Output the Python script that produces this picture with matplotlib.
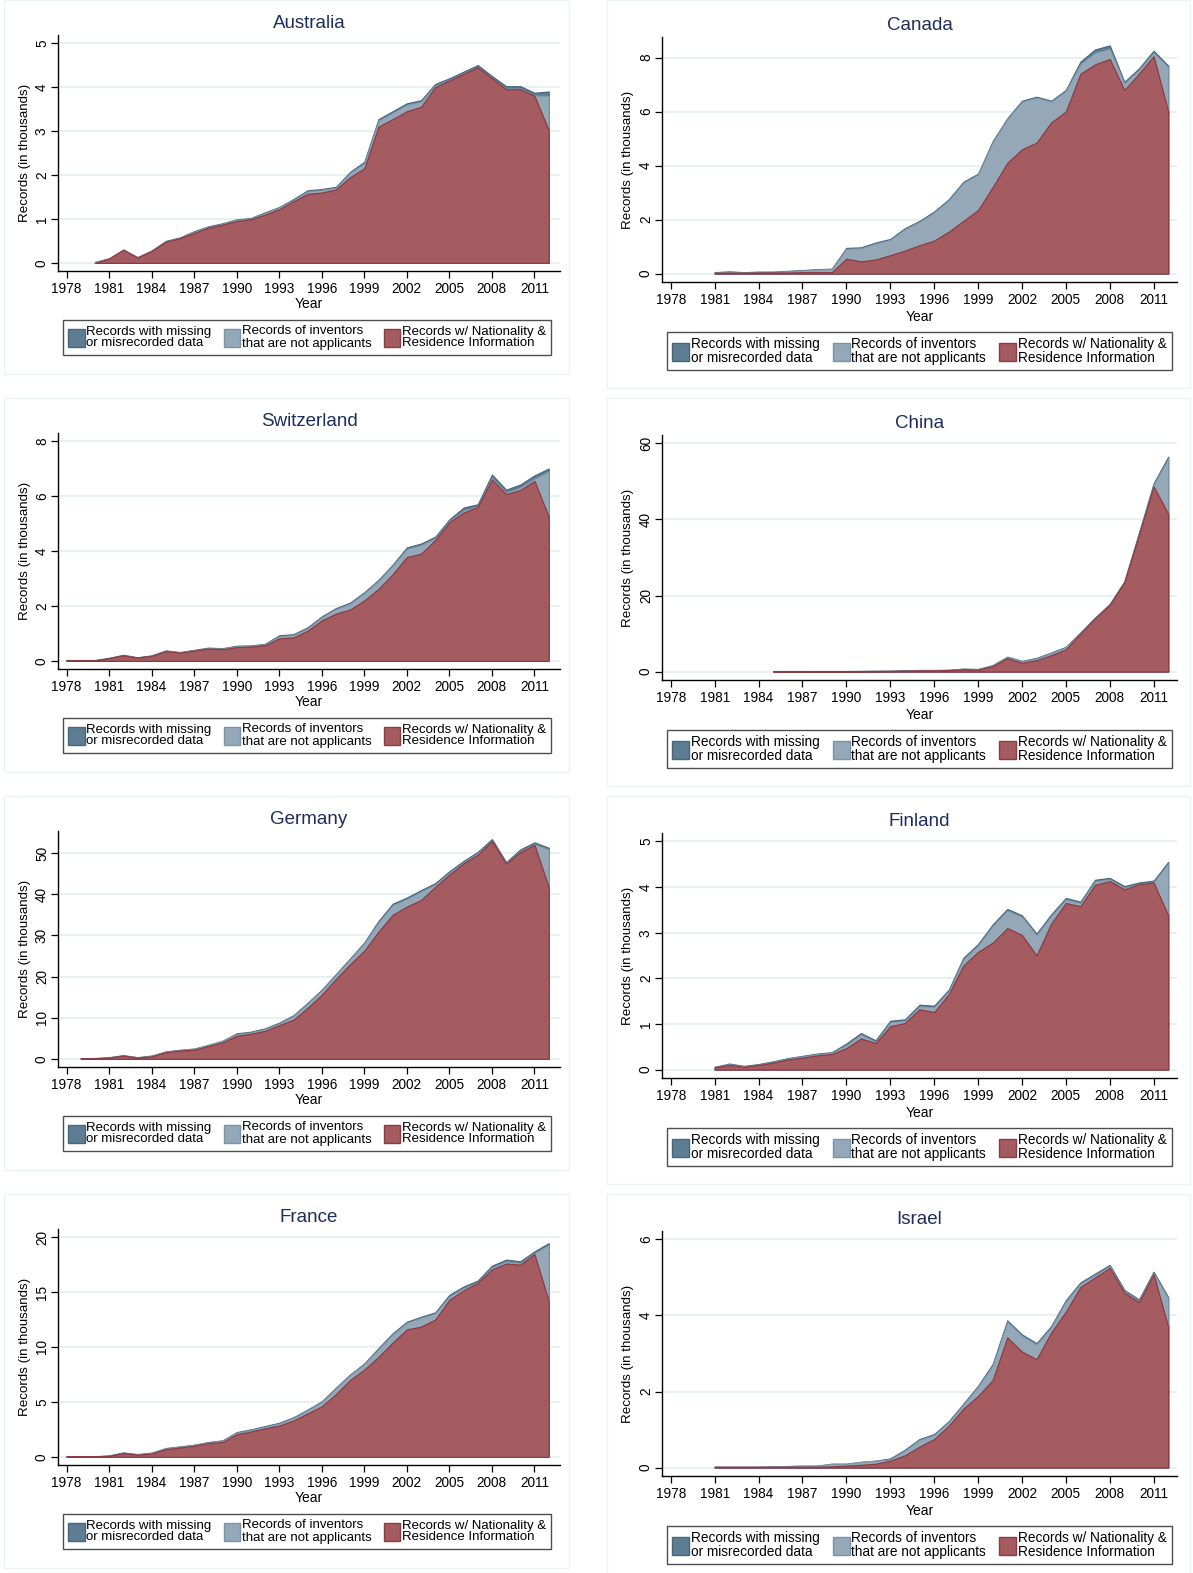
import numpy as np
import matplotlib.pyplot as plt
from matplotlib.patches import Patch, Rectangle

plt.rcParams['font.family'] = ['Liberation Sans', 'DejaVu Sans']

W, H = 1193, 1573

# ---- data (thousands of records) ----
aus_years = list(range(1980, 2013))
aus_nat = [0.0, 0.1, 0.3, 0.12, 0.27, 0.48, 0.56, 0.68, 0.8, 0.87, 0.95, 0.99, 1.1, 1.22, 1.4, 1.57, 1.6,
           1.67, 1.95, 2.15, 3.1, 3.27, 3.45, 3.55, 4.0, 4.15, 4.3, 4.45, 4.2, 3.95, 3.95, 3.8, 3.02]
aus_non = [0.02, 0, 0, 0.01, 0.01, 0.01, 0.01, 0.03, 0.02, 0.02, 0.03, 0.02, 0.04, 0.04, 0.03, 0.06, 0.06,
           0.04, 0.1, 0.12, 0.14, 0.15, 0.15, 0.12, 0.04, 0.02, 0.02, 0.01, 0.01, 0.02, 0.02, 0.01, 0.78]
aus_mis = [0, 0, 0, 0, 0, 0.01, 0.01, 0.01, 0.01, 0.01, 0.01, 0.01, 0.01, 0.01, 0.02, 0.02, 0.02,
           0.02, 0.02, 0.03, 0.03, 0.03, 0.03, 0.03, 0.03, 0.03, 0.03, 0.04, 0.04, 0.05, 0.05, 0.06, 0.1]

can_years = list(range(1981, 2013))
can_nat = [0.03, 0.03, 0.03, 0.04, 0.04, 0.04, 0.05, 0.05, 0.05, 0.55, 0.45, 0.52, 0.68, 0.85, 1.05, 1.22,
           1.55, 1.95, 2.35, 3.2, 4.1, 4.6, 4.85, 5.6, 6.0, 7.4, 7.75, 7.95, 6.8, 7.4, 8.05, 6.0]
can_non = [0.01, 0.04, 0.01, 0.02, 0.02, 0.05, 0.07, 0.1, 0.12, 0.37, 0.49, 0.6, 0.57, 0.8, 0.87, 1.05,
           1.17, 1.42, 1.32, 1.67, 1.62, 1.77, 1.67, 0.77, 0.77, 0.37, 0.43, 0.38, 0.25, 0.15, 0.14, 1.65]
can_mis = [0.01, 0.01, 0.01, 0.01, 0.01, 0.01, 0.01, 0.01, 0.01, 0.03, 0.03, 0.03, 0.03, 0.03, 0.03, 0.03,
           0.03, 0.03, 0.03, 0.03, 0.03, 0.03, 0.03, 0.03, 0.03, 0.08, 0.12, 0.12, 0.05, 0.05, 0.06, 0.05]

che_years = list(range(1978, 2013))
che_nat = [0.02, 0.02, 0.02, 0.1, 0.2, 0.12, 0.18, 0.35, 0.3, 0.37, 0.45, 0.42, 0.5, 0.52, 0.57, 0.82,
           0.85, 1.1, 1.47, 1.72, 1.87, 2.2, 2.62, 3.15, 3.78, 3.9, 4.4, 5.05, 5.4, 5.6, 6.6, 6.07, 6.22,
           6.55, 5.25]
che_non = [0, 0, 0, 0, 0.01, 0, 0.01, 0.02, 0.01, 0.02, 0.02, 0.03, 0.04, 0.03, 0.04, 0.08, 0.09, 0.09,
           0.12, 0.17, 0.22, 0.27, 0.3, 0.32, 0.3, 0.32, 0.07, 0.05, 0.08, 0.03, 0.08, 0.06, 0.1, 0.08, 1.65]
che_mis = [0.01, 0.01, 0.01, 0.01, 0.01, 0.01, 0.01, 0.01, 0.01, 0.01, 0.01, 0.01, 0.01, 0.01, 0.01,
           0.03, 0.03, 0.03, 0.03, 0.03, 0.03, 0.03, 0.03, 0.03, 0.05, 0.05, 0.05, 0.05, 0.1, 0.07, 0.1,
           0.1, 0.1, 0.12, 0.1]

chn_years = list(range(1985, 2013))
chn_nat = [0.1, 0.1, 0.1, 0.1, 0.1, 0.1, 0.12, 0.14, 0.15, 0.25, 0.3, 0.3, 0.35, 0.6, 0.5, 1.4, 3.5, 2.3,
           3.0, 4.3, 5.8, 10.0, 14.0, 17.5, 23.5, 36.0, 48.7, 41.5]
chn_non = [0.02, 0.02, 0.02, 0.03, 0.03, 0.03, 0.04, 0.05, 0.06, 0.08, 0.1, 0.1, 0.1, 0.15, 0.15, 0.2,
           0.3, 0.4, 0.5, 0.6, 0.6, 0.2, 0.1, 0.2, 0.1, 0.3, 0.5, 14.6]
chn_mis = [0.01, 0.01, 0.01, 0.01, 0.01, 0.01, 0.01, 0.01, 0.01, 0.01, 0.01, 0.01, 0.01, 0.01, 0.01,
           0.1, 0.1, 0.1, 0.1, 0.1, 0.1, 0.1, 0.1, 0.1, 0.1, 0.2, 0.3, 0.4]

deu_years = list(range(1979, 2013))
deu_nat = [0.1, 0.15, 0.3, 0.8, 0.3, 0.6, 1.6, 2.0, 2.2, 3.1, 4.0, 5.6, 6.1, 6.8, 8.2, 9.5, 12.4, 15.6,
           19.4, 23.0, 26.3, 30.9, 35.0, 37.0, 38.6, 41.8, 44.8, 47.5, 49.6, 52.9, 47.4, 50.3, 52.0, 41.8]
deu_non = [0.02, 0.02, 0.07, 0.07, 0.07, 0.17, 0.17, 0.17, 0.27, 0.27, 0.37, 0.45, 0.35, 0.45, 0.45,
           0.95, 1.05, 1.05, 1.05, 1.25, 1.85, 2.3, 2.4, 1.9, 2.1, 0.6, 0.5, 0.3, 0.4, 0.1, 0.1, 0.3, 0.2, 9.1]
deu_mis = [0.03, 0.03, 0.03, 0.03, 0.03, 0.03, 0.03, 0.03, 0.03, 0.03, 0.03, 0.15, 0.15, 0.15, 0.15,
           0.15, 0.15, 0.15, 0.15, 0.15, 0.15, 0.3, 0.3, 0.3, 0.3, 0.3, 0.3, 0.3, 0.3, 0.4, 0.3, 0.3, 0.4, 0.4]

fin_years = list(range(1981, 2013))
fin_nat = [0.05, 0.1, 0.06, 0.1, 0.15, 0.22, 0.26, 0.31, 0.34, 0.47, 0.68, 0.58, 0.95, 1.02, 1.32, 1.26,
           1.65, 2.28, 2.58, 2.78, 3.1, 2.95, 2.5, 3.2, 3.65, 3.58, 4.05, 4.13, 3.95, 4.06, 4.1, 3.38]
fin_non = [0, 0.02, 0.01, 0.01, 0.02, 0.02, 0.03, 0.03, 0.03, 0.07, 0.09, 0.03, 0.09, 0.05, 0.07, 0.11,
           0.07, 0.14, 0.14, 0.37, 0.39, 0.4, 0.45, 0.17, 0.08, 0.07, 0.08, 0.04, 0.04, 0.01, 0.01, 1.14]
fin_mis = [0.01, 0.01, 0.01, 0.01, 0.01, 0.01, 0.01, 0.01, 0.01, 0.03, 0.03, 0.03, 0.03, 0.03, 0.03,
           0.03, 0.03, 0.03, 0.03, 0.03, 0.03, 0.03, 0.03, 0.03, 0.03, 0.03, 0.03, 0.03, 0.03, 0.03, 0.03, 0.03]

fra_years = list(range(1978, 2013))
fra_nat = [0.05, 0.05, 0.05, 0.1, 0.35, 0.2, 0.3, 0.7, 0.85, 1.0, 1.25, 1.35, 2.05, 2.3, 2.6, 2.85, 3.3,
           3.95, 4.6, 5.7, 7.0, 7.95, 9.1, 10.4, 11.6, 11.85, 12.5, 14.3, 15.15, 15.85, 17.05, 17.6, 17.5,
           18.45, 14.2]
fra_non = [0, 0, 0, 0.01, 0.04, 0.04, 0.07, 0.09, 0.09, 0.09, 0.09, 0.14, 0.15, 0.15, 0.15, 0.2, 0.25,
           0.3, 0.4, 0.55, 0.45, 0.5, 0.72, 0.77, 0.62, 0.82, 0.57, 0.33, 0.23, 0.08, 0.2, 0.2, 0.15, 0.1, 5.1]
fra_mis = [0.01, 0.01, 0.01, 0.01, 0.01, 0.01, 0.01, 0.01, 0.01, 0.01, 0.01, 0.01, 0.05, 0.05, 0.05,
           0.05, 0.05, 0.05, 0.05, 0.05, 0.05, 0.05, 0.08, 0.08, 0.08, 0.08, 0.08, 0.12, 0.12, 0.12, 0.15,
           0.15, 0.15, 0.15, 0.15]

isr_years = list(range(1981, 2013))
isr_nat = [0.02, 0.02, 0.02, 0.02, 0.02, 0.02, 0.02, 0.02, 0.03, 0.05, 0.07, 0.1, 0.18, 0.32, 0.55, 0.75,
           1.1, 1.55, 1.88, 2.3, 3.42, 3.05, 2.85, 3.55, 4.1, 4.75, 5.0, 5.25, 4.6, 4.35, 5.08, 3.7]
isr_non = [0, 0, 0, 0, 0.01, 0.02, 0.03, 0.03, 0.07, 0.05, 0.08, 0.08, 0.04, 0.13, 0.18, 0.11, 0.1, 0.11,
           0.25, 0.39, 0.42, 0.42, 0.39, 0.14, 0.27, 0.09, 0.07, 0.05, 0.04, 0.04, 0.04, 0.75]
isr_mis = [0, 0, 0, 0, 0, 0, 0, 0, 0, 0, 0, 0, 0.02, 0.02, 0.02, 0.02, 0.02, 0.02, 0.02, 0.03, 0.03, 0.03,
           0.03, 0.03, 0.03, 0.03, 0.03, 0.03, 0.03, 0.03, 0.03, 0.03]

panels = [
    ("Australia", aus_years, aus_nat, aus_non, aus_mis, [0, 1, 2, 3, 4, 5], 0, 0),
    ("Canada", can_years, can_nat, can_non, can_mis, [0, 2, 4, 6, 8], 1, 0),
    ("Switzerland", che_years, che_nat, che_non, che_mis, [0, 2, 4, 6, 8], 0, 1),
    ("China", chn_years, chn_nat, chn_non, chn_mis, [0, 20, 40, 60], 1, 1),
    ("Germany", deu_years, deu_nat, deu_non, deu_mis, [0, 10, 20, 30, 40, 50], 0, 2),
    ("Finland", fin_years, fin_nat, fin_non, fin_mis, [0, 1, 2, 3, 4, 5], 1, 2),
    ("France", fra_years, fra_nat, fra_non, fra_mis, [0, 5, 10, 15, 20], 0, 3),
    ("Israel", isr_years, isr_nat, isr_non, isr_mis, [0, 2, 4, 6], 1, 3),
]

labels = ["Records with missing\nor misrecorded data",
          "Records of inventors\nthat are not applicants",
          "Records w/ Nationality &\nResidence Information"]

c_mis, e_mis = "#5e7d92", "#46677f"
c_non, e_non = "#95a8b8", "#7a93a6"
c_nat, e_nat = "#a45c61", "#8e3a42"
grid_c = "#e3ecee"
title_c = "#1f2d5c"

# pixel layout per column: axes box, title y, legend box, panel frame
layout = {
    0: dict(ax=(58, 35, 560, 271), title=23, year=304, ylab=25, leg=(63, 318, 551, 357),
            frame=(4, 0, 569, 374), xlim=(1977.4, 2012.8), lfs=9.5),
    1: dict(ax=(662, 37, 1177, 282), title=25, year=317, ylab=628, leg=(667, 331, 1172, 371),
            frame=(607, 0, 1190, 388), xlim=(1977.4, 2012.6), lfs=9.8),
}
step = 398


def rect(x0, y0, x1, y1):
    return [x0 / W, 1 - y1 / H, (x1 - x0) / W, (y1 - y0) / H]


fig = plt.figure(figsize=(W / 100, H / 100), dpi=100)

for name, years, nat, non, mis, yt, col, row in panels:
    L = layout[col]
    dy = row * step
    fx0, fy0, fx1, fy1 = L["frame"]
    fig.patches.append(Rectangle((fx0 / W, 1 - (fy1 + dy) / H), (fx1 - fx0) / W, (fy1 - fy0) / H,
                                 transform=fig.transFigure, fill=False, edgecolor="#edf2f4", lw=1.0))

    x0, y0, x1, y1 = L["ax"]
    ax = fig.add_axes(rect(x0, y0 + dy, x1, y1 + dy))
    yrs = np.array(years)
    nat = np.array(nat)
    lvl2 = nat + np.array(non)
    lvl3 = lvl2 + np.array(mis)
    ax.fill_between(yrs, 0, lvl3, facecolor=c_mis, edgecolor=e_mis, lw=0.9, zorder=2)
    ax.fill_between(yrs, 0, lvl2, facecolor=c_non, edgecolor=e_non, lw=0.7, zorder=3)
    ax.fill_between(yrs, 0, nat, facecolor=c_nat, edgecolor=e_nat, lw=0.9, zorder=4)

    hi = max(yt[-1], lvl3.max())
    pad = 0.037 * hi
    ax.set_ylim(-pad, hi + pad)
    ax.set_xlim(*L["xlim"])
    ax.set_yticks(yt)
    ax.set_xticks(range(1978, 2012, 3))
    ax.grid(axis="y", color=grid_c, lw=1.1, zorder=0)
    ax.set_axisbelow(True)
    for s in ["top", "right"]:
        ax.spines[s].set_visible(False)
    ax.spines["left"].set_linewidth(1.0)
    ax.spines["bottom"].set_linewidth(1.0)
    ax.tick_params(axis="x", direction="out", length=5, width=0.9, labelsize=9.8, pad=3)
    ax.tick_params(axis="y", direction="out", length=5, width=0.9, labelsize=9.8, pad=1.5,
                   labelrotation=90)
    for t in ax.get_yticklabels():
        t.set_va("center")

    cx = (x0 + x1) / 2
    fig.text(cx / W, 1 - (L["title"] + dy) / H, name, ha="center", va="center", fontsize=13.5,
             color=title_c)
    fig.text(cx / W, 1 - (L["year"] + dy) / H, "Year", ha="center", va="center", fontsize=10)
    fig.text(L["ylab"] / W, 1 - ((y0 + y1) / 2 + dy) / H, "Records (in thousands)", ha="center",
             va="center", rotation=90, fontsize=9.6)

    lx0, ly0, lx1, ly1 = L["leg"]
    lax = fig.add_axes(rect(lx0, ly0 + dy, lx1, ly1 + dy))
    lax.axis("off")
    handles = [Patch(facecolor=c_mis, edgecolor=e_mis), Patch(facecolor=c_non, edgecolor=e_non),
               Patch(facecolor=c_nat, edgecolor=e_nat)]
    leg = lax.legend(handles, labels, ncol=3, loc="center", mode="expand", bbox_to_anchor=(0, 0, 1, 1),
                     borderaxespad=0, frameon=True, fancybox=False, edgecolor="#222222",
                     handlelength=1.25, handleheight=1.7, handletextpad=0.12, columnspacing=0.6,
                     borderpad=0.4, fontsize=L["lfs"])
    leg.get_frame().set_linewidth(1.0)
    for t in leg.get_texts():
        t.set_linespacing(1.0)

fig.savefig("out.png", dpi=100, facecolor="white")
